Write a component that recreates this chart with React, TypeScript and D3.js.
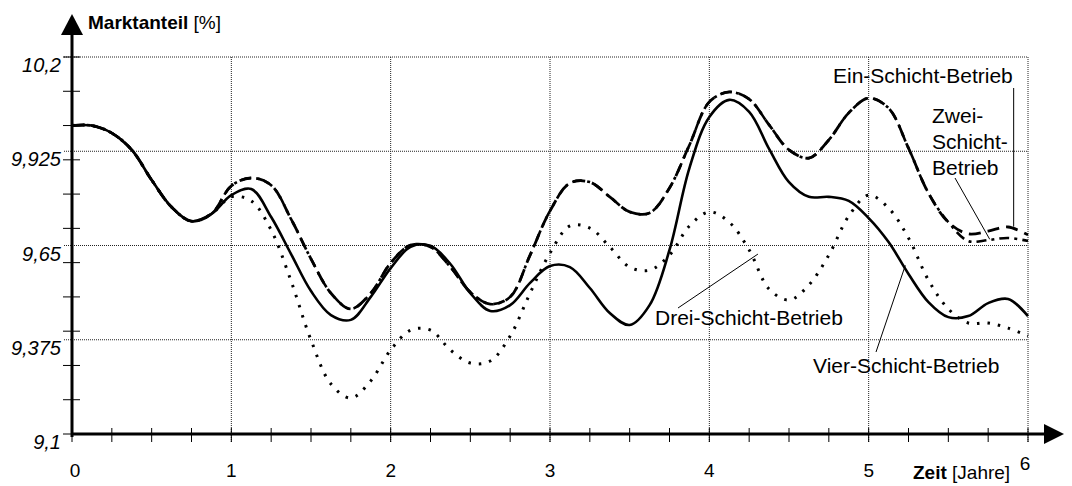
import React from 'react';
import * as d3 from 'd3';

// Zeit in Jahren (Achtel-Jahre)
const jahre = [
  0, 0.125, 0.25, 0.375, 0.5, 0.625, 0.75, 0.875,
  1, 1.125, 1.25, 1.375, 1.5, 1.625, 1.75, 1.875,
  2, 2.125, 2.25, 2.375, 2.5, 2.625, 2.75, 2.875,
  3, 3.125, 3.25, 3.375, 3.5, 3.625, 3.75, 3.875,
  4, 4.125, 4.25, 4.375, 4.5, 4.625, 4.75, 4.875,
  5, 5.125, 5.25, 5.375, 5.5, 5.625, 5.75, 5.875, 6,
];

// Marktanteil [%]
const vierSchicht = [
  10.0, 10.0, 9.978, 9.929, 9.841, 9.762, 9.721, 9.742,
  9.797, 9.815, 9.733, 9.625, 9.517, 9.447, 9.433, 9.5,
  9.584, 9.646, 9.649, 9.596, 9.511, 9.459, 9.476, 9.541,
  9.59, 9.587, 9.526, 9.453, 9.418, 9.476, 9.637, 9.876,
  10.025, 10.075, 10.04, 9.932, 9.835, 9.792, 9.792, 9.78,
  9.73, 9.66, 9.567, 9.485, 9.441, 9.444, 9.482, 9.494, 9.444,
];
const dreiSchicht = [
  10.0, 10.0, 9.978, 9.929, 9.841, 9.762, 9.721, 9.742,
  9.792, 9.78, 9.695, 9.546, 9.374, 9.246, 9.205, 9.255,
  9.345, 9.403, 9.403, 9.345, 9.307, 9.313, 9.386, 9.511,
  9.628, 9.707, 9.701, 9.646, 9.587, 9.578, 9.622, 9.707,
  9.748, 9.718, 9.637, 9.523, 9.491, 9.535, 9.622, 9.736,
  9.797, 9.759, 9.672, 9.549, 9.465, 9.424, 9.424, 9.409, 9.386,
];
const zweiSchicht = [
  10.0, 10.0, 9.978, 9.929, 9.841, 9.762, 9.721, 9.742,
  9.824, 9.847, 9.826, 9.727, 9.611, 9.511, 9.465, 9.511,
  9.599, 9.651, 9.646, 9.587, 9.514, 9.479, 9.5, 9.622,
  9.751, 9.832, 9.835, 9.792, 9.748, 9.745, 9.818, 9.943,
  10.069, 10.098, 10.077, 10.002, 9.929, 9.905, 9.958, 10.037,
  10.08, 10.051, 9.934, 9.803, 9.718, 9.663, 9.666, 9.672, 9.663,
];
const einSchicht = [
  10.0, 10.0, 9.978, 9.929, 9.841, 9.762, 9.721, 9.742,
  9.824, 9.847, 9.826, 9.727, 9.611, 9.511, 9.465, 9.511,
  9.599, 9.651, 9.646, 9.587, 9.514, 9.479, 9.5, 9.622,
  9.751, 9.832, 9.835, 9.792, 9.748, 9.745, 9.818, 9.943,
  10.069, 10.098, 10.077, 10.002, 9.929, 9.905, 9.958, 10.037,
  10.08, 10.051, 9.934, 9.803, 9.718, 9.684, 9.692, 9.704, 9.681,
];

const yGrid = [9.375, 9.65, 9.925, 10.2];
const yTickWerte = [9.1, 9.375, 9.65, 9.925, 10.2];
const yTickLabels = ['9,1', '9,375', '9,65', '9,925', '10,2'];
const yMinor = [9.1, 9.2, 9.3, 9.4, 9.5, 9.6, 9.7, 9.8, 9.9, 10.0, 10.1, 10.2];
const xGrid = [1, 2, 3, 4, 5, 6];
const xTickLabels = ['0', '1', '2', '3', '4', '5'];
const xMinor = d3.range(0, 6.001, 0.25);

const font = '"Liberation Sans", Arial, sans-serif';

function App() {
  const width = 1072;
  const height = 486;

  const x = d3.scaleLinear([0, 6], [72, 1028]);
  const y = d3.scaleLinear([9.1, 10.2], [434, 57]);

  const line = d3
    .line<number>()
    .x((_, i) => x(jahre[i]))
    .y((d) => y(d))
    .curve(d3.curveCatmullRom.alpha(0.5));

  const x0 = x(0);
  const yBase = y(9.1);

  // Beschriftung der Kurven: Text + Hinweislinie (Anker in Datenkoordinaten)
  const einAnker = { t: 5.91, v: 9.705 };
  const zweiAnker = { t: 5.76, v: 9.668 };
  const dreiAnker = { t: 4.305, v: 9.625 };
  const vierAnker = { t: 5.23, v: 9.592 };

  return (
    <svg
      width={width}
      height={height}
      style={{ position: 'absolute', left: 0, top: 0, background: '#fff' }}
      fontFamily={font}
    >
      <rect width={width} height={height} fill="#fff" />

      {/* Gitter */}
      <g stroke="#222" strokeWidth={1} strokeDasharray="1 1" fill="none">
        {yGrid.map((v) => (
          <line key={v} x1={64} x2={x(6)} y1={y(v)} y2={y(v)} />
        ))}
        {xGrid.map((t) => (
          <line key={t} x1={x(t)} x2={x(t)} y1={y(10.2)} y2={yBase + 8} />
        ))}
      </g>

      {/* Kurven */}
      <g fill="none" stroke="#000">
        <path d={line(dreiSchicht) || ''} strokeWidth={3} strokeDasharray="2.5 8" />
        <path d={line(zweiSchicht) || ''} strokeWidth={2.6} strokeDasharray="10 5 3 5" />
        <path d={line(einSchicht) || ''} strokeWidth={2.8} strokeDasharray="12 7" />
        <path d={line(vierSchicht) || ''} strokeWidth={2.6} strokeLinejoin="round" />
      </g>

      {/* Achsen */}
      <g stroke="#000">
        <line x1={x0} x2={x0} y1={yBase + 3} y2={34} strokeWidth={3} />
        <line x1={x0 - 1} x2={1046} y1={yBase} y2={yBase} strokeWidth={3} />
        {yMinor.map((v) => (
          <line key={v} x1={x0 - 9} x2={x0 + 8} y1={y(v)} y2={y(v)} strokeWidth={1} />
        ))}
        {xMinor.map((t) => (
          <line key={t} x1={x(t)} x2={x(t)} y1={yBase - 6} y2={yBase + 8} strokeWidth={1} />
        ))}
      </g>
      <path d={`M${x0 - 11},35 L${x0},14 L${x0 + 11},35 Z`} fill="#000" />
      <path d={`M1044,${yBase - 10} L1064,${yBase} L1044,${yBase + 10} Z`} fill="#000" />

      {/* Achsenbeschriftung */}
      <g fontSize={20} fontStyle="italic" textAnchor="end" fill="#000">
        {yTickWerte.map((v, i) => (
          <text key={v} x={61} y={y(v) + 15}>
            {yTickLabels[i]}
          </text>
        ))}
      </g>
      <g fontSize={19} textAnchor="middle" fill="#000">
        {xTickLabels.map((l, i) => (
          <text key={l} x={x(i) + (i === 0 ? 3 : 0)} y={477}>
            {l}
          </text>
        ))}
        <text x={x(6) - 3} y={470}>6</text>
      </g>
      <text x={88} y={29} fontSize={19} fill="#000">
        <tspan fontWeight="bold">Marktanteil</tspan>
        <tspan> [%]</tspan>
      </text>
      <text x={913} y={479} fontSize={19} fill="#000">
        <tspan fontWeight="bold">Zeit</tspan>
        <tspan> [Jahre]</tspan>
      </text>

      {/* Kurvenbeschriftung */}
      <g fontSize={21} fill="#000">
        <text x={833} y={83}>Ein-Schicht-Betrieb</text>
        <text x={932} y={123}>Zwei-</text>
        <text x={932} y={149}>Schicht-</text>
        <text x={932} y={175}>Betrieb</text>
        <text x={655} y={325}>Drei-Schicht-Betrieb</text>
        <text x={813} y={373}>Vier-Schicht-Betrieb</text>
      </g>
      <g stroke="#000" strokeWidth={1}>
        <line x1={x(einAnker.t)} x2={x(einAnker.t)} y1={88} y2={y(einAnker.v)} />
        <line x1={955} y1={178} x2={x(zweiAnker.t)} y2={y(zweiAnker.v)} />
        <line x1={678} y1={308} x2={x(dreiAnker.t)} y2={y(dreiAnker.v)} />
        <line x1={876} y1={352} x2={x(vierAnker.t)} y2={y(vierAnker.v)} />
      </g>
    </svg>
  );
}

export default App;
